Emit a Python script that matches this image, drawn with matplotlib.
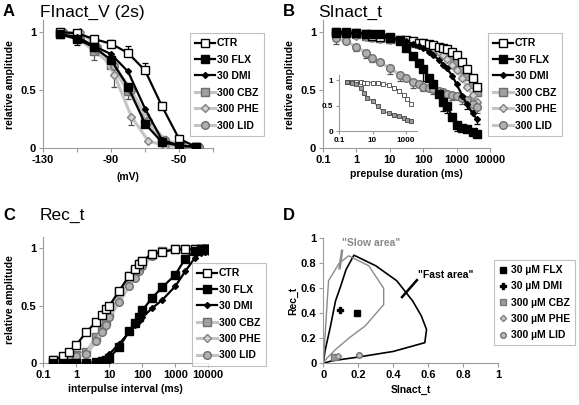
import matplotlib
matplotlib.use("Agg")
import matplotlib.pyplot as plt
import numpy as np

plt.rcParams['font.family'] = ['Liberation Sans', 'DejaVu Sans']
plt.rcParams['font.weight'] = 'bold'
plt.rcParams['axes.labelweight'] = 'bold'

labels = ['CTR', '30 FLX', '30 DMI', '300 CBZ', '300 PHE', '300 LID']

# ---- A: fast inactivation vs prepulse voltage (mV)
volt_a = [-120, -110, -100, -90, -80, -70, -60, -50, -40]
volt_a2 = [-118, -108, -98, -88, -78, -68, -58, -48, -38]   # PHE / LID
a_ctr = [1.00, 0.99, 0.94, 0.90, 0.82, 0.67, 0.36, 0.08, 0.01]
a_flx = [0.98, 0.94, 0.87, 0.76, 0.53, 0.21, 0.05, 0.02, 0.01]
a_dmi = [0.98, 0.96, 0.88, 0.81, 0.66, 0.34, 0.07, 0.02, 0.01]
a_cbz = [0.98, 0.95, 0.84, 0.72, 0.49, 0.26, 0.07, 0.02, 0.01]
a_phe = [0.99, 1.00, 0.88, 0.63, 0.27, 0.06, 0.02, 0.01, 0.01]
a_lid = [1.00, 0.94, 0.85, 0.71, 0.50, 0.23, 0.07, 0.02, 0.01]
a_err_ctr = [0, 0, 0, 0.03, 0.06, 0.06, 0.04, 0.02, 0]
a_err_flx = [0, 0.05, 0, 0, 0, 0, 0, 0, 0]
a_err_cbz = [0, 0, 0.08, 0, 0.07, 0, 0, 0, 0]
a_err_phe = [0, 0, 0, 0.10, 0.07, 0, 0, 0, 0]

# ---- B: slow inactivation vs prepulse duration (ms)
dur_b = [0.25, 0.5, 1, 2, 3, 5, 10, 20, 30, 50, 75, 100, 150, 200, 300, 400,
         500, 750, 1000, 1500, 2000, 3000, 4000]
b_ctr = [1.00, 1.00, 0.99, 0.98, 0.97, 0.96, 0.95, 0.93, 0.93, 0.92, 0.91, 0.91,
         0.90, 0.89, 0.87, 0.86, 0.85, 0.83, 0.80, 0.74, 0.68, 0.60, 0.53]
b_flx = [0.99, 0.99, 0.99, 0.98, 0.98, 0.98, 0.96, 0.92, 0.86, 0.79, 0.73, 0.68,
         0.60, 0.55, 0.47, 0.40, 0.36, 0.27, 0.20, 0.17, 0.16, 0.14, 0.12]
b_dmi = [0.99, 0.99, 0.99, 0.99, 0.99, 0.99, 0.96, 0.93, 0.92, 0.90, 0.88, 0.86,
         0.83, 0.80, 0.76, 0.72, 0.69, 0.62, 0.55, 0.45, 0.38, 0.30, 0.25]
b_cbz = [1.00, 0.99, 0.98, 0.97, 0.96, 0.95, 0.94, 0.93, 0.92, 0.91, 0.90, 0.90,
         0.89, 0.88, 0.86, 0.84, 0.82, 0.78, 0.74, 0.68, 0.62, 0.55, 0.48]
b_phe = [0.98, 0.98, 0.97, 0.96, 0.95, 0.94, 0.93, 0.92, 0.92, 0.91, 0.90, 0.90,
         0.88, 0.86, 0.83, 0.80, 0.77, 0.72, 0.67, 0.60, 0.53, 0.46, 0.40]
b_lid = [0.95, 0.92, 0.87, 0.82, 0.78, 0.74, 0.69, 0.63, 0.60, 0.57, 0.55, 0.53,
         0.52, 0.51, 0.49, 0.48, 0.47, 0.46, 0.45, 0.43, 0.41, 0.38, 0.35]
b_err_lid = [0.05, 0, 0.03, 0.04, 0.04, 0, 0.05, 0.05, 0, 0.05, 0, 0.04, 0,
             0.04, 0, 0.04, 0, 0.05, 0, 0.05, 0, 0.05, 0.05]
b_err_flx = [0, 0, 0, 0, 0, 0, 0, 0, 0, 0, 0, 0.10, 0, 0, 0, 0.08, 0.06, 0, 0.05,
             0, 0, 0, 0]
b_err_dmi = [0, 0, 0, 0, 0, 0, 0, 0, 0, 0, 0, 0, 0, 0, 0, 0, 0, 0, 0, 0, 0.04,
             0, 0.04]

# inset of B
dur_in = [0.3, 0.6, 1, 2, 3, 5, 10, 20, 40, 100, 200, 400, 800, 1200, 2000]
in_upper = [0.97, 0.97, 0.96, 0.96, 0.95, 0.95, 0.95, 0.94, 0.93, 0.90, 0.85,
            0.79, 0.70, 0.62, 0.54]
in_lower = [0.96, 0.95, 0.92, 0.85, 0.75, 0.65, 0.59, 0.49, 0.39, 0.35, 0.32,
            0.29, 0.25, 0.22, 0.19]

# ---- C: recovery vs interpulse interval (ms)
int_c = [0.2, 0.4, 0.6, 1, 2, 4, 6, 8, 10, 20, 40, 60, 80, 100, 200, 400,
         1000, 2000, 4000, 6000, 8000, 10000]
c_ctr = [0.03, 0.06, 0.10, 0.16, 0.27, 0.36, 0.42, 0.47, 0.50, 0.63, 0.76, 0.82,
         0.86, 0.89, 0.95, 0.97, 0.99, 0.99, 0.99, 0.99, 0.99, 0.99]
c_flx = [0.00, 0.00, 0.00, 0.00, 0.00, 0.01, 0.02, 0.03, 0.05, 0.14, 0.28, 0.35,
         0.40, 0.46, 0.57, 0.66, 0.77, 0.91, 0.98, 0.99, 0.99, 0.99]
c_dmi = [0.00, 0.00, 0.00, 0.00, 0.00, 0.00, 0.01, 0.02, 0.08, 0.17, 0.27, 0.33,
         0.37, 0.40, 0.48, 0.55, 0.67, 0.80, 0.92, 0.96, 0.97, 0.98]
c_cbz = [0.03, 0.04, 0.05, 0.07, 0.10, 0.23, 0.31, 0.37, 0.44, 0.62, 0.76, 0.80,
         0.86, 0.89, 0.95, 0.98, 0.99, 0.99, 0.99, 0.99, 0.99, 0.99]
c_phe = [0.03, 0.04, 0.05, 0.06, 0.09, 0.21, 0.29, 0.36, 0.42, 0.60, 0.73, 0.79,
         0.84, 0.87, 0.94, 0.97, 0.99, 0.99, 0.99, 0.98, 0.98, 0.98]
c_lid = [0.03, 0.04, 0.05, 0.06, 0.08, 0.19, 0.27, 0.33, 0.40, 0.53, 0.67, 0.74,
         0.80, 0.85, 0.93, 0.97, 0.99, 0.99, 0.99, 0.99, 0.99, 0.99]

# ---- D: SInact_t vs Rec_t
fast_x = [0, 0.01, 0.04, 0.07, 0.10, 0.13, 0.175, 0.30, 0.42, 0.51, 0.56, 0.59,
          0.58, 0.40, 0.20, 0.05, 0]
fast_y = [0, 0.10, 0.29, 0.50, 0.62, 0.75, 0.865, 0.78, 0.66, 0.50, 0.38, 0.27,
          0.165, 0.095, 0.05, 0.02, 0]
slow_x = [0, 0.03, 0.09, 0.145, 0.26, 0.345, 0.345, 0.24, 0.145, 0.07, 0.02, 0]
slow_y = [0, 0.66, 0.80, 0.86, 0.78, 0.60, 0.47, 0.30, 0.20, 0.11, 0.04, 0]
d_labels = ['30 µM FLX', '30 µM DMI', '300 µM CBZ', '300 µM PHE', '300 µM LID']
d_sinact = [0.19, 0.095, 0.06, 0.085, 0.205]
d_rec = [0.40, 0.43, 0.05, 0.055, 0.07]

GRAY_LINE = '#c4c4c4'
styles = [
    dict(color='black', marker='s', mfc='white', mec='black', ms=5.5, lw=1.6, zorder=4),
    dict(color='black', marker='s', mfc='black', mec='black', ms=5.5, lw=1.6, zorder=4),
    dict(color='black', marker='D', mfc='black', mec='black', ms=3, lw=1.6, zorder=4),
    dict(color=GRAY_LINE, marker='s', mfc='#a0a0a0', mec='#6e6e6e', ms=5.5, lw=2.2, zorder=3),
    dict(color=GRAY_LINE, marker='D', mfc='#d2d2d2', mec='#808080', ms=3.8, lw=2.2, zorder=3),
    dict(color=GRAY_LINE, marker='o', mfc='#b0b0b0', mec='#6e6e6e', ms=5.5, lw=2.2, zorder=3),
]

W, H = 579, 405
fig = plt.figure(figsize=(W / 100, H / 100), dpi=100)


def px_axes(left, right, top, bottom):
    return fig.add_axes([left / W, 1 - bottom / H, (right - left) / W, (bottom - top) / H])


def excel_style(ax, size=8):
    for s in ['top', 'right']:
        ax.spines[s].set_visible(False)
    for s in ['left', 'bottom']:
        ax.spines[s].set_color('#9a9a9a')
        ax.spines[s].set_linewidth(0.8)
    ax.tick_params(direction='out', length=3, width=0.8, color='#9a9a9a',
                   labelsize=size, pad=2)
    ax.minorticks_off()


def errbars(ax, x, y, err, color, down=True):
    for xi, yi, e in zip(x, y, err):
        if e > 0:
            lo, hi = (e, 0) if down else (0, e)
            ax.errorbar([xi], [yi], yerr=[[lo], [hi]], fmt='none', ecolor=color,
                        elinewidth=0.9, capsize=2.5, capthick=0.9, zorder=2)


def legend(ax, left, top, handles=None, labels_=None, size=7.5,
           hlen=1.9, hpad=0.2, spacing=0.62):
    kw = dict(loc='upper left',
              bbox_to_anchor=(left / W, 1 - top / H), bbox_transform=fig.transFigure,
              fontsize=size, frameon=True, fancybox=False, handlelength=hlen,
              handletextpad=hpad, labelspacing=spacing, borderpad=0.5,
              borderaxespad=0)
    if handles is not None:
        lg = ax.legend(handles, labels_, **kw)
    else:
        lg = ax.legend(**kw)
    lg.get_frame().set_edgecolor('#b0b0b0')
    lg.get_frame().set_linewidth(0.8)
    return lg


# ---------------- A
axA = px_axes(43, 213, 20.5, 148)
xs_a = [volt_a, volt_a, volt_a, volt_a, volt_a2, volt_a2]
ys_a = [a_ctr, a_flx, a_dmi, a_cbz, a_phe, a_lid]
errbars(axA, volt_a, a_ctr, a_err_ctr, 'black', down=False)
errbars(axA, volt_a, a_flx, a_err_flx, 'black')
errbars(axA, volt_a, a_cbz, a_err_cbz, '#555555')
errbars(axA, volt_a2, a_phe, a_err_phe, '#555555')
for x, y, st, lab in zip(xs_a, ys_a, styles, labels):
    axA.plot(x, y, label=lab, **st)
axA.set_xlim(-130, -30)
axA.set_ylim(0, 1.1)
axA.set_xticks([-130, -110, -90, -70, -50, -30])
axA.set_xticklabels(['-130', '', '-90', '', '-50', ''])
axA.set_yticks([0, 0.5, 1])
axA.set_yticklabels(['0', '0.5', '1'])
excel_style(axA)
axA.set_xlabel('(mV)', fontsize=7.5, labelpad=5)
axA.set_ylabel('relative amplitude', fontsize=7.5, labelpad=4)
legend(axA, 190, 33)

# ---------------- B
axB = px_axes(323, 490, 20.5, 148)
errbars(axB, dur_b, b_lid, b_err_lid, '#555555')
errbars(axB, dur_b, b_flx, b_err_flx, 'black')
errbars(axB, dur_b, b_dmi, b_err_dmi, 'black')
for y, st, lab in zip([b_ctr, b_flx, b_dmi, b_cbz, b_phe, b_lid], styles, labels):
    axB.plot(dur_b, y, label=lab, **st)
axB.set_xscale('log')
axB.set_xlim(0.1, 10000)
axB.set_ylim(0, 1.1)
axB.set_xticks([0.1, 1, 10, 100, 1000, 10000])
axB.set_xticklabels(['0.1', '1', '10', '100', '1000', '10000'])
axB.set_yticks([0, 0.5, 1])
axB.set_yticklabels(['0', '0.5', '1'])
excel_style(axB)
axB.set_xlabel('prepulse duration (ms)', fontsize=7.5, labelpad=3)
axB.set_ylabel('relative amplitude', fontsize=7.5, labelpad=4)
legend(axB, 488, 33)

axIn = px_axes(339, 417, 75, 131)
axIn.patch.set_alpha(0)
axIn.plot(dur_in, in_upper, color='#666666', lw=0.7, marker='s', ms=2.2,
          mfc='white', mec='#444444', mew=0.6)
axIn.plot(dur_in, in_lower, color='#666666', lw=0.7, marker='s', ms=2.2,
          mfc='#9a9a9a', mec='#444444', mew=0.6)
axIn.set_xscale('log')
axIn.set_xlim(0.1, 4500)
axIn.set_ylim(0, 1.1)
axIn.set_xticks([0.1, 10, 1000])
axIn.set_xticklabels(['0.1', '10', '1000'])
axIn.set_yticks([0, 0.5, 1])
axIn.set_yticklabels(['0', '0.5', '1'])
excel_style(axIn, size=5.8)
axIn.tick_params(length=2)

# ---------------- C
axC = px_axes(43.3, 208.3, 236.8, 363.3)
for y, st, lab in zip([c_ctr, c_flx, c_dmi, c_cbz, c_phe, c_lid], styles, labels):
    axC.plot(int_c, y, label=lab, **st)
axC.set_xscale('log')
axC.set_xlim(0.1, 10000)
axC.set_ylim(0, 1.1)
axC.set_xticks([0.1, 1, 10, 100, 1000, 10000])
axC.set_xticklabels(['0.1', '1', '10', '100', '1000', '10000'])
axC.set_yticks([0, 0.5, 1])
axC.set_yticklabels(['0', '0.5', '1'])
excel_style(axC)
axC.set_xlabel('interpulse interval (ms)', fontsize=7.5, labelpad=3)
axC.set_ylabel('relative amplitude', fontsize=7.5, labelpad=4)
legend(axC, 192, 263)

# ---------------- D
axD = px_axes(323.3, 498.3, 238.3, 363.3)
axD.plot(fast_x, fast_y, color='black', lw=1.2)
axD.plot(slow_x, slow_y, color='#8a8a8a', lw=1.0)
d_styles = [
    dict(marker='s', mfc='black', mec='black', ms=4.5),
    dict(marker='P', mfc='black', mec='black', ms=4.5),
    dict(marker='s', mfc='#9a9a9a', mec='#7a7a7a', ms=5),
    dict(marker='D', mfc='#c8c8c8', mec='#808080', ms=3.2),
    dict(marker='o', mfc='#c0c0c0', mec='#6e6e6e', ms=4),
]
hD = []
for xv, yv, st, lab in zip(d_sinact, d_rec, d_styles, d_labels):
    hD.append(axD.plot([xv], [yv], ls='none', label=lab, zorder=5, **st)[0])
axD.plot([0.107, 0.093], [0.90, 0.76], color='#8a8a8a', lw=1.8)
axD.plot([0.535, 0.45], [0.665, 0.53], color='black', lw=1.8)
axD.text(0.105, 0.96, '"Slow area"', color='#8a8a8a', fontsize=7.5, va='center')
axD.text(0.54, 0.71, '"Fast area"', color='black', fontsize=7.5, va='center')
axD.set_xlim(0, 1)
axD.set_ylim(0, 1)
ticks = [0, 0.2, 0.4, 0.6, 0.8, 1]
tl = ['0', '0.2', '0.4', '0.6', '0.8', '1']
axD.set_xticks(ticks)
axD.set_xticklabels(tl)
axD.set_yticks(ticks)
axD.set_yticklabels(tl)
excel_style(axD)
axD.set_xlabel('SInact_t', fontsize=7.5, labelpad=3)
axD.set_ylabel('Rec_t', fontsize=7.5, labelpad=2)
legend(axD, 494, 260, hD, d_labels, size=7.5, hlen=0.7, hpad=0.4, spacing=0.6)

# ---------------- panel letters and titles
for x, y, s in [(3, 12, 'A'), (283, 12, 'B'), (3, 215, 'C'), (283, 215, 'D')]:
    fig.text(x / W, 1 - y / H, s, fontsize=12, fontweight='bold', va='center')
for x, y, s in [(40, 12, 'FInact_V (2s)'), (318, 12, 'SInact_t'), (40, 215, 'Rec_t')]:
    fig.text(x / W, 1 - y / H, s, fontsize=12.5, fontweight='normal', va='center')

fig.savefig('out.png', dpi=100)
